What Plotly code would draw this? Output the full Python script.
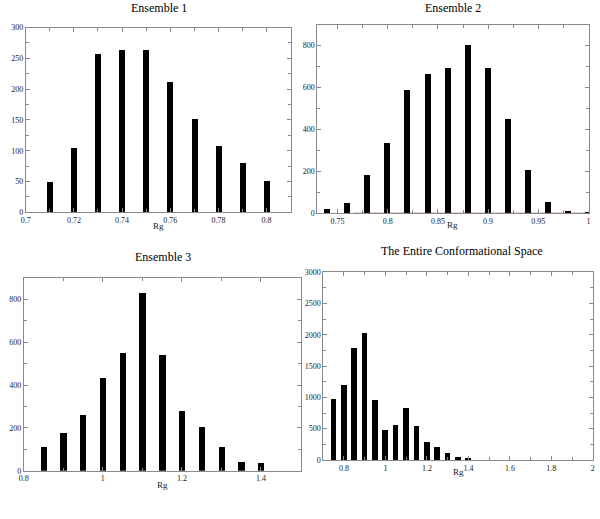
import plotly.graph_objects as go

# ---- data ----
ens1_rg = [0.71, 0.72, 0.73, 0.74, 0.75, 0.76, 0.77, 0.78, 0.79, 0.80]
ens1_count = [50, 105, 257, 265, 264, 212, 152, 109, 81, 51]

ens2_rg = [0.74, 0.76, 0.78, 0.80, 0.82, 0.84, 0.86, 0.88, 0.90, 0.92, 0.94, 0.96, 0.98, 1.00]
ens2_count = [20, 52, 183, 336, 590, 668, 697, 806, 697, 452, 210, 58, 15, 8]
ens2_ref_rg = [0.766, 1.0]
ens2_ref_count = [0, 0]

ens3_rg = [0.85, 0.90, 0.95, 1.00, 1.05, 1.10, 1.15, 1.20, 1.25, 1.30, 1.35, 1.40]
ens3_count = [112, 175, 260, 433, 550, 830, 538, 280, 204, 108, 38, 36]

all_rg = [0.75, 0.80, 0.85, 0.90, 0.95, 1.00, 1.05, 1.10, 1.15, 1.20, 1.25, 1.30, 1.35, 1.40]
all_count = [970, 1200, 1780, 2020, 960, 480, 550, 830, 540, 275, 200, 105, 40, 35]

titles = ["Ensemble 1", "Ensemble 2", "Ensemble 3", "The Entire Conformational Space"]

W, H = 600, 519
FONT = "Liberation Serif"
GREY = "#8a8a8a"
TXT = "#222222"

def px_x(p):
    return p / W

def px_y(p):
    return 1 - p / H

fig = go.Figure()

fig.add_trace(go.Bar(x=ens1_rg, y=ens1_count, width=0.0025, marker=dict(color="black", line=dict(width=0)),
                     xaxis="x", yaxis="y", showlegend=False))
fig.add_trace(go.Bar(x=ens2_rg, y=ens2_count, width=0.006, marker=dict(color="black", line=dict(width=0)),
                     xaxis="x2", yaxis="y2", showlegend=False))
fig.add_trace(go.Scatter(x=ens2_ref_rg, y=ens2_ref_count, mode="lines", line=dict(color="#8b1a1a", width=1),
                         xaxis="x2", yaxis="y2", showlegend=False))
fig.add_trace(go.Bar(x=ens3_rg, y=ens3_count, width=0.016, marker=dict(color="black", line=dict(width=0)),
                     xaxis="x3", yaxis="y3", showlegend=False))
fig.add_trace(go.Bar(x=all_rg, y=all_count, width=0.027, marker=dict(color="black", line=dict(width=0)),
                     xaxis="x4", yaxis="y4", showlegend=False))

tickfont = dict(family=FONT, size=8, color=TXT)

def xax(domain, rng, tick0, dtick, minor_dtick, anchor):
    return dict(domain=domain, range=rng, anchor=anchor, tick0=tick0, dtick=dtick,
                showgrid=False, zeroline=False, showline=True, linecolor=GREY, linewidth=1,
                mirror="ticks", ticks="inside", ticklen=4, tickcolor=GREY, tickwidth=1,
                tickfont=tickfont, ticklabelstandoff=0, ticklabeloverflow="allow",
                minor=dict(ticks="inside", dtick=minor_dtick, tick0=tick0, ticklen=3, tickcolor=GREY, showgrid=False))

def yax(domain, rng, dtick, minor_dtick, anchor):
    return dict(domain=domain, range=rng, anchor=anchor, dtick=dtick,
                showgrid=False, zeroline=False, showline=True, linecolor=GREY, linewidth=1,
                mirror="ticks", ticks="inside", ticklen=4, tickcolor=GREY, tickwidth=1,
                tickfont=tickfont, ticklabelstandoff=0, ticklabeloverflow="allow",
                minor=dict(ticks="inside", dtick=minor_dtick, ticklen=3, tickcolor=GREY, showgrid=False))

# panel boxes (pixels): left, right, top, bottom
boxes = [
    (21, 289, 24, 212),
    (316, 591, 21, 213),
    (19, 299, 279, 475),
    (322, 595, 273, 464),
]
doms = [([px_x(l), px_x(r)], [px_y(b), px_y(t)]) for (l, r, t, b) in boxes]

fig.update_layout(
    xaxis=xax(doms[0][0], [0.7, 0.81], 0.7, 0.02, 0.01, "y"),
    yaxis=yax(doms[0][1], [0, 300.01], 50, 25, "x"),
    xaxis2=xax(doms[1][0], [0.73, 1.0005], 0.75, 0.05, 0.025, "y2"),
    yaxis2=yax(doms[1][1], [0, 900], 200, 100, "x2"),
    xaxis3=xax(doms[2][0], [0.8, 1.5], 0.8, 0.2, 0.1, "y3"),
    yaxis3=yax(doms[2][1], [0, 900], 200, 100, "x3"),
    xaxis4=xax(doms[3][0], [0.7, 2.001], 0.8, 0.2, 0.1, "y4"),
    yaxis4=yax(doms[3][1], [0, 3000.5], 500, 250, "x4"),
)

title_pos = [(156, 4), (453, 4), (160, 257), (462, 251)]
annotations = []
for t, (cx, cy) in zip(titles, title_pos):
    annotations.append(dict(text=t, x=px_x(cx), y=px_y(cy), xref="paper", yref="paper",
                            xanchor="center", yanchor="middle", showarrow=False,
                            font=dict(family=FONT, size=12, color="black")))
rg_pos = [(155, 226), (453, 225), (159, 489), (459, 476)]
for (cx, cy) in rg_pos:
    annotations.append(dict(text="Rg", x=px_x(cx), y=px_y(cy), xref="paper", yref="paper",
                            xanchor="center", yanchor="middle", showarrow=False,
                            font=dict(family=FONT, size=9, color=TXT)))

fig.update_layout(
    annotations=annotations,
    width=W, height=H,
    margin=dict(l=0, r=0, t=0, b=0),
    paper_bgcolor="white", plot_bgcolor="white",
    bargap=0,
)

fig.write_html("out.html", config={"displayModeBar": False},
               post_script="document.body.style.margin='0';document.body.style.overflow='hidden';")
